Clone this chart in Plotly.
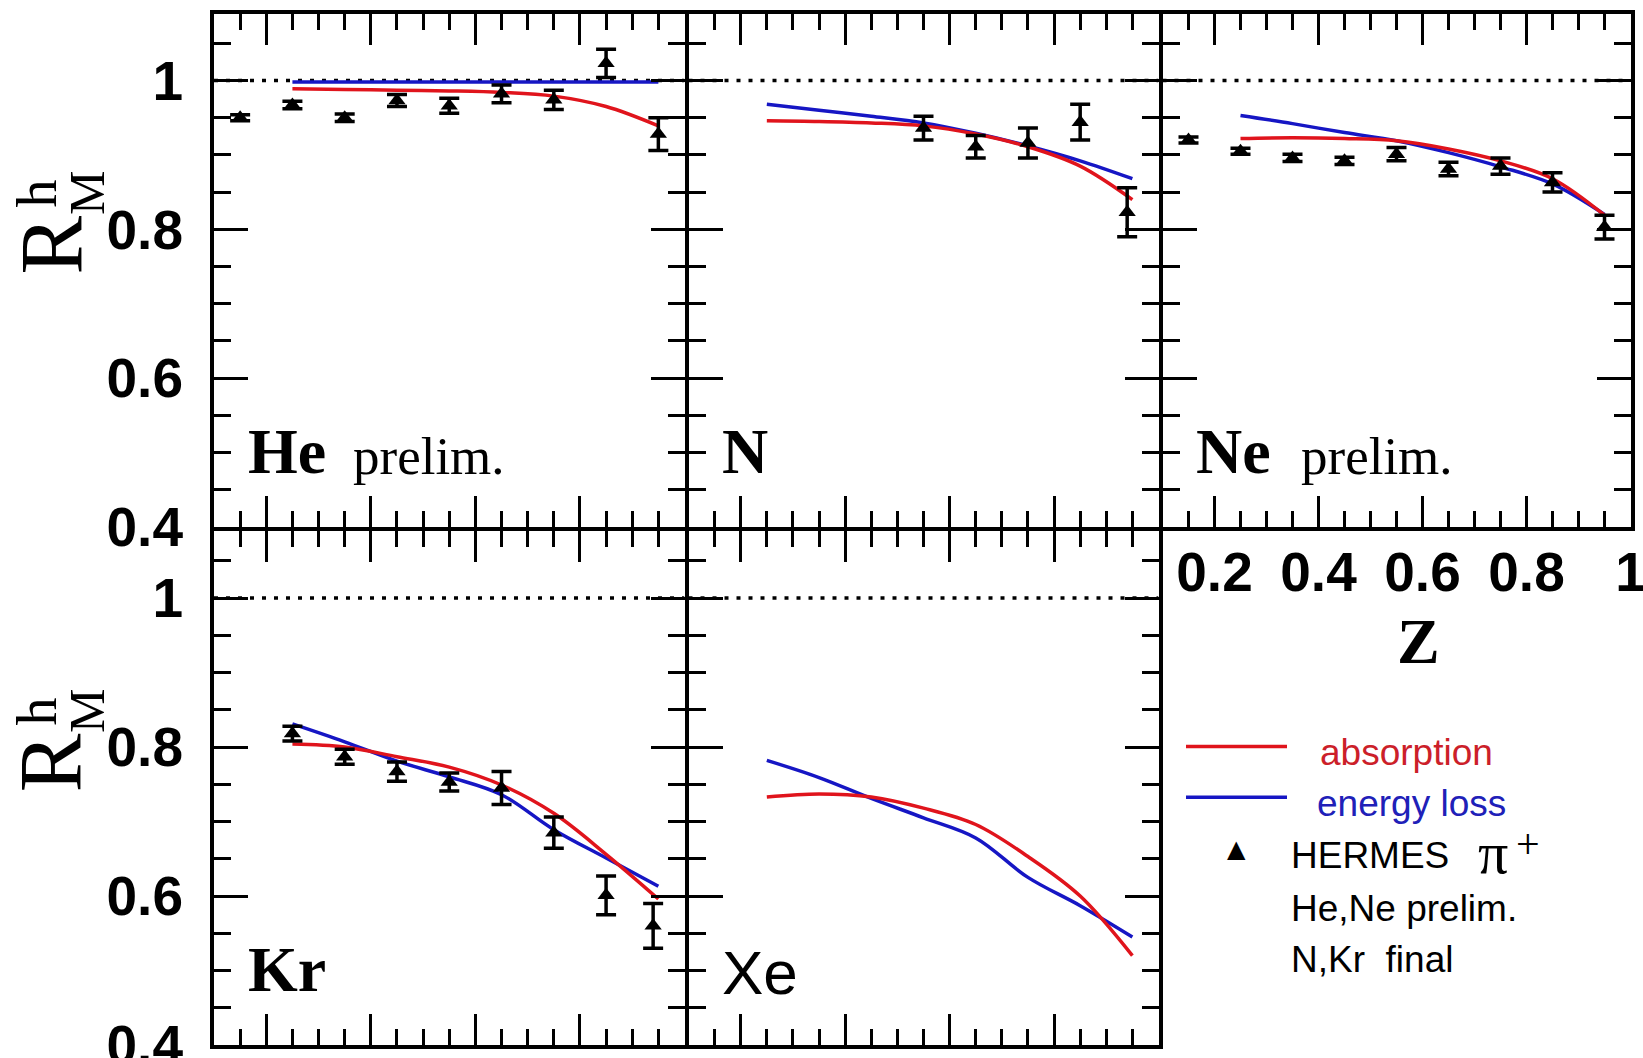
import plotly.graph_objects as go

W, H = 1643, 1058

# ---------------- data ----------------
z_he = [0.15, 0.25, 0.35, 0.45, 0.55, 0.65, 0.75, 0.85, 0.95]
r_he = [0.950, 0.967, 0.950, 0.973, 0.966, 0.982, 0.974, 1.023, 0.928]
err_he = [0.004, 0.005, 0.005, 0.008, 0.010, 0.012, 0.013, 0.019, 0.022]

z_n = [0.55, 0.65, 0.75, 0.85, 0.94]
r_n = [0.936, 0.911, 0.916, 0.944, 0.823]
err_n = [0.016, 0.015, 0.020, 0.024, 0.033]

z_ne = [0.15, 0.25, 0.35, 0.45, 0.55, 0.65, 0.75, 0.85, 0.95]
r_ne = [0.920, 0.905, 0.896, 0.892, 0.901, 0.881, 0.885, 0.863, 0.803]
err_ne = [0.004, 0.004, 0.005, 0.005, 0.009, 0.009, 0.011, 0.013, 0.016]

z_kr = [0.25, 0.35, 0.45, 0.55, 0.65, 0.75, 0.85, 0.94]
r_kr = [0.818, 0.787, 0.767, 0.753, 0.745, 0.685, 0.601, 0.560]
err_kr = [0.010, 0.010, 0.013, 0.012, 0.022, 0.021, 0.026, 0.030]

z_model = [0.25, 0.35, 0.45, 0.55, 0.65, 0.75, 0.85, 0.95]
absorption_he = [0.989, 0.988, 0.987, 0.986, 0.984, 0.979, 0.965, 0.939]
eloss_he = [0.998, 0.998, 0.998, 0.998, 0.998, 0.998, 0.998, 0.998]
absorption_n = [0.946, 0.945, 0.943, 0.939, 0.928, 0.911, 0.885, 0.840]
eloss_n = [0.968, 0.960, 0.952, 0.943, 0.929, 0.912, 0.892, 0.868]
absorption_ne = [0.922, 0.923, 0.922, 0.919, 0.908, 0.892, 0.868, 0.819]
eloss_ne = [0.953, 0.942, 0.930, 0.919, 0.903, 0.884, 0.861, 0.820]
absorption_kr = [0.804, 0.800, 0.787, 0.773, 0.749, 0.711, 0.656, 0.596]
eloss_kr = [0.831, 0.807, 0.781, 0.760, 0.736, 0.689, 0.651, 0.613]
absorption_xe = [0.733, 0.737, 0.733, 0.718, 0.696, 0.653, 0.600, 0.520]
eloss_xe = [0.782, 0.759, 0.731, 0.705, 0.678, 0.625, 0.587, 0.545]

z_ref = [0.1, 1.0]
r_ref = [1.0, 1.0]

z_tickvals = [0.2, 0.4, 0.6, 0.8, 1.0]
z_ticktext = ["0.2", "0.4", "0.6", "0.8", "1"]
r_tickvals = [0.4, 0.6, 0.8, 1.0]
r_ticktext = ["0.4", "0.6", "0.8", "1"]

nuclei = ["He", "N", "Ne", "Kr", "Xe"]
prelim_flags = [True, False, True, False, False]
legend_labels = ["absorption", "energy loss", "HERMES", "He,Ne prelim.", "N,Kr\u00a0\u00a0final"]

# ---------------- styling / layout ----------------
RED = "#e0141c"
BLUE = "#1616c4"
LW = 4  # frame line width
col_px = [212, 686.5, 1160.5, 1632.5]   # frame line centres
row_px = [11.5, 529, 1047]


def xdom(c):
    return [(col_px[c] + LW / 2) / W, (col_px[c + 1] - LW / 2) / W]


def ydom(r):
    return [1 - (row_px[r + 1] - LW / 2) / H, 1 - (row_px[r] + LW / 2) / H]


def px(x, y):
    return x / W, 1 - y / H


panel_data = [
    (z_he, r_he, err_he, absorption_he, eloss_he),
    (z_n, r_n, err_n, absorption_n, eloss_n),
    (z_ne, r_ne, err_ne, absorption_ne, eloss_ne),
    (z_kr, r_kr, err_kr, absorption_kr, eloss_kr),
    (None, None, None, absorption_xe, eloss_xe),
]
cells = [(0, 0), (0, 1), (0, 2), (1, 0), (1, 1)]

fig = go.Figure()
annotations = []
layout_axes = {}

tickfont = dict(family="Liberation Sans", size=55, color="black", weight="bold")

for i, ((z, r, e, ab, el), (row, col)) in enumerate(zip(panel_data, cells)):
    suf = "" if i == 0 else str(i + 1)
    xa, ya = "x" + suf, "y" + suf
    fig.add_trace(go.Scatter(x=z_ref, y=r_ref, xaxis=xa, yaxis=ya, mode="lines",
                             line=dict(color="black", width=3.5, dash="4px,8px"),
                             hoverinfo="skip"))
    fig.add_trace(go.Scatter(x=z_model, y=el, xaxis=xa, yaxis=ya, mode="lines",
                             line=dict(color=BLUE, width=3.5, shape="spline")))
    fig.add_trace(go.Scatter(x=z_model, y=ab, xaxis=xa, yaxis=ya, mode="lines",
                             line=dict(color=RED, width=3.5, shape="spline")))
    if z is not None:
        fig.add_trace(go.Scatter(x=z, y=r, xaxis=xa, yaxis=ya, mode="markers",
                                 marker=dict(symbol="triangle-up", size=15, color="black"),
                                 error_y=dict(type="data", array=e, visible=True,
                                              color="black", thickness=3.5, width=10)))

    xax = dict(domain=xdom(col), anchor=ya, range=[0.1, 1.0], automargin=False,
               tickmode="array", tickvals=z_tickvals, ticktext=z_ticktext,
               ticks="inside", ticklen=31, tickwidth=3, tickcolor="black",
               showline=True, linewidth=LW, linecolor="black", mirror="allticks",
               showgrid=False, zeroline=False, fixedrange=True,
               minor=dict(tick0=0, dtick=0.05, ticks="inside", ticklen=16,
                          tickwidth=3, tickcolor="black", showgrid=False),
               showticklabels=(i == 2), tickfont=tickfont, ticklabelstandoff=-6,
               ticklabeloverflow="allow")
    yax = dict(domain=ydom(row), anchor=xa, range=[0.4, 1.09], automargin=False,
               tickmode="array", tickvals=r_tickvals, ticktext=r_ticktext,
               ticks="inside", ticklen=34, tickwidth=3, tickcolor="black",
               showline=True, linewidth=LW, linecolor="black", mirror="allticks",
               showgrid=False, zeroline=False, fixedrange=True,
               minor=dict(tick0=0, dtick=0.05, ticks="inside", ticklen=17,
                          tickwidth=3, tickcolor="black", showgrid=False),
               showticklabels=(col == 0), tickfont=tickfont, ticklabelstandoff=16,
               ticklabeloverflow="allow")
    layout_axes["xaxis" + suf] = xax
    layout_axes["yaxis" + suf] = yax

    # nucleus label
    name = nuclei[i]
    if name == "Xe":
        nfont = dict(family="Liberation Sans", size=62, color="black")
        ny = 0.498
    else:
        nfont = dict(family="Liberation Serif", size=64, color="black", weight="bold")
        ny = 0.501
    annotations.append(dict(text=name, x=0.161, y=ny, xref=xa, yref=ya,
                            xanchor="left", yanchor="middle", showarrow=False, font=nfont))
    if prelim_flags[i]:
        annotations.append(dict(text="prelim.", x=0.362, y=0.496, xref=xa, yref=ya,
                                xanchor="left", yanchor="middle", showarrow=False,
                                font=dict(family="Liberation Serif", size=53, color="black")))

# y-axis titles R^h_M
for yc_r, yc_s in [(245, 193), (762.7, 711)]:
    x0, y0 = px(50.6, yc_r)
    annotations.append(dict(text="R", x=x0, y=y0, xref="paper", yref="paper",
                            xanchor="center", yanchor="middle", textangle=-90, showarrow=False,
                            font=dict(family="Liberation Serif", size=88, color="black")))
    x1, y1 = px(37.4, yc_s)
    annotations.append(dict(text="h", x=x1, y=y1, xref="paper", yref="paper",
                            xanchor="center", yanchor="middle", textangle=-90, showarrow=False,
                            font=dict(family="Liberation Serif", size=56, color="black")))
    x2, y2 = px(87, yc_s)
    annotations.append(dict(text="M", x=x2, y=y2, xref="paper", yref="paper",
                            xanchor="center", yanchor="middle", textangle=-90, showarrow=False,
                            font=dict(family="Liberation Serif", size=50, color="black")))

# x axis title
zx, zy = px(1418.7, 641)
annotations.append(dict(text="Z", x=zx, y=zy, xref="paper", yref="paper",
                        xanchor="center", yanchor="middle", showarrow=False,
                        font=dict(family="Liberation Serif", size=64, color="black", weight="bold")))

# legend
shapes = []
for yy, colr in [(746.5, RED), (797.3, BLUE)]:
    a0, b0 = px(1186, yy)
    a1, _ = px(1287, yy)
    shapes.append(dict(type="line", xref="paper", yref="paper", x0=a0, x1=a1, y0=b0, y1=b0,
                       line=dict(color=colr, width=3.5)))

leg_font = dict(family="Liberation Sans", size=37)
legend_items = [
    (legend_labels[0], 1318, 752.6, "#cc1f2a"),
    (legend_labels[1], 1315, 803.8, "#2020b8"),
    (legend_labels[2], 1289, 855.5, "black"),
    (legend_labels[3], 1289, 908.7, "black"),
    (legend_labels[4], 1289, 959.2, "black"),
]
for txt, lx, ly, colr in legend_items:
    a, b = px(lx, ly)
    annotations.append(dict(text=txt, x=a, y=b, xref="paper", yref="paper",
                            xanchor="left", yanchor="middle", showarrow=False,
                            font=dict(color=colr, **leg_font)))

a, b = px(1236, 849)
annotations.append(dict(text="\u25b2", x=a, y=b, xref="paper", yref="paper",
                        xanchor="center", yanchor="middle", showarrow=False,
                        font=dict(family="DejaVu Sans", size=24, color="black")))
a, b = px(1476, 853.4)
annotations.append(dict(text="\u03c0", x=a, y=b, xref="paper", yref="paper",
                        xanchor="left", yanchor="middle", showarrow=False,
                        font=dict(family="Liberation Serif", size=60, color="black")))
a, b = px(1527.5, 843.5)
annotations.append(dict(text="+", x=a, y=b, xref="paper", yref="paper",
                        xanchor="center", yanchor="middle", showarrow=False,
                        font=dict(family="Liberation Serif", size=42, color="black")))

fig.update_layout(width=W, height=H, autosize=False,
                  margin=dict(l=0, r=0, t=0, b=0, pad=0, autoexpand=False),
                  paper_bgcolor="white", plot_bgcolor="white",
                  showlegend=False, annotations=annotations, shapes=shapes,
                  **layout_axes)

fig.write_html("out.html")
